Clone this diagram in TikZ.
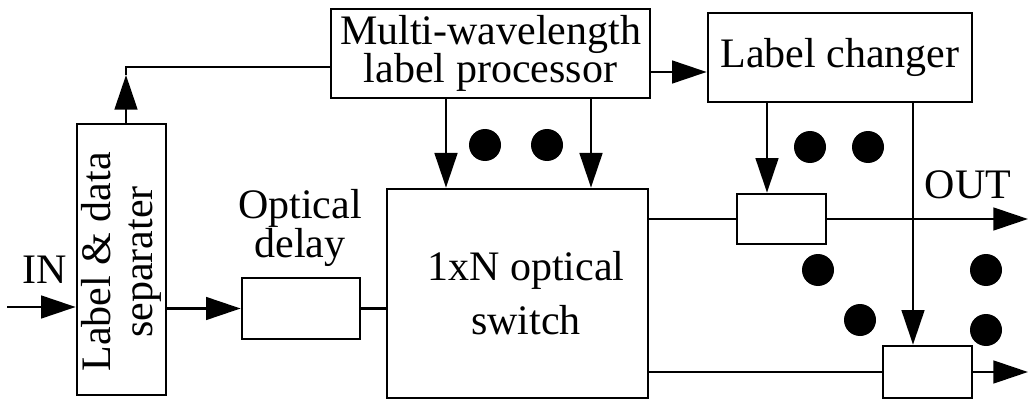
\documentclass[tikz,border=0pt]{standalone}
\usepackage{fontspec}
\setmainfont{Liberation Serif}
\usetikzlibrary{arrows.meta}
\begin{document}
\begin{tikzpicture}[x=0.75pt,y=-0.75pt, line width=2pt,
 box/.style={draw, rectangle, inner sep=0pt},
 lbl/.style={font=\fontsize{31.5}{29}\selectfont, align=center, inner sep=0pt},
 arr/.style={-{Triangle[length=26pt,width=17pt]}},
 dot/.style={fill, circle, minimum size=24pt, inner sep=0pt}]
\useasboundingbox (0,0) rectangle (1029,403);
% boxes
\node[box, lbl, minimum width=239.25pt, minimum height=66.75pt] (proc) at (490.5,53.5) {Multi-wavelength\\label processor};
\node[box, lbl, minimum width=198pt, minimum height=66.75pt] (chg) at (840,57.5) {Label changer};
\node[box, minimum width=66.75pt, minimum height=203.25pt] (sep) at (121.5,259.5) {};
\node[lbl, rotate=90, font=\fontsize{31.5}{32}\selectfont] (septxt) at (121.5,262) {Label \& data\\separater};
\node[box, minimum width=88.5pt, minimum height=45.75pt] (dly) at (301,308.5) {};
\node[lbl] (dlytxt) at (300,228) {Optical\\delay};
\node[box, minimum width=195.75pt, minimum height=156.75pt] (sw) at (517.5,293.5) {};
\node[lbl, font=\fontsize{31.5}{40}\selectfont] (swtxt) at (526,293) {1xN optical\\switch};
\node[box, minimum width=66.75pt, minimum height=37.5pt] (b1) at (781.5,219) {};
\node[box, minimum width=66.75pt, minimum height=39pt] (b2) at (927.5,372) {};
\node[lbl] (in) at (45,270) {IN};
\node[lbl] (out) at (968,185) {OUT};
% coordinates
\coordinate (inS) at (7,307);
\coordinate (o1) at (1028,219);
\coordinate (o2) at (1028,372);
\coordinate (upTip) at (126,75);
\coordinate (corner) at (126,67);
\coordinate (pc) at (650,72);
\coordinate (a1) at (446,0);
\coordinate (a2) at (591,0);
\coordinate (c1) at (767,0);
\coordinate (c2) at (913,0);
% connectors
\draw[arr] (inS) -- (inS -| sep.west);
\draw[arr] (sep.east |- dly.west) -- (dly.west);
\draw (dly.east) -- (dly.east -| sw.west);
\draw[arr] (upTip |- sep.north) -- (upTip);
\draw (upTip) -- (corner) -- (corner -| proc.west);
\draw[arr] (proc.east |- pc) -- (chg.west |- pc);
\draw[arr] (proc.south -| a1) -- (sw.north -| a1);
\draw[arr] (proc.south -| a2) -- (sw.north -| a2);
\draw[arr] (chg.south -| c1) -- (b1.north -| c1);
\draw (sw.east |- b1.west) -- (b1.west);
\draw[arr] (b1.east) -- (o1);
\draw[arr] (chg.south -| c2) -- (b2.north -| c2);
\draw (sw.east |- b2.west) -- (b2.west);
\draw[arr] (b2.east) -- (o2);
% dots
\foreach \p [count=\i] in {(485,145),(547,145),(810,147),(868,147),(818,270),(860,320),(986,270),(986,330)}
  \node[dot] (d\i) at \p {};
\end{tikzpicture}
\end{document}
